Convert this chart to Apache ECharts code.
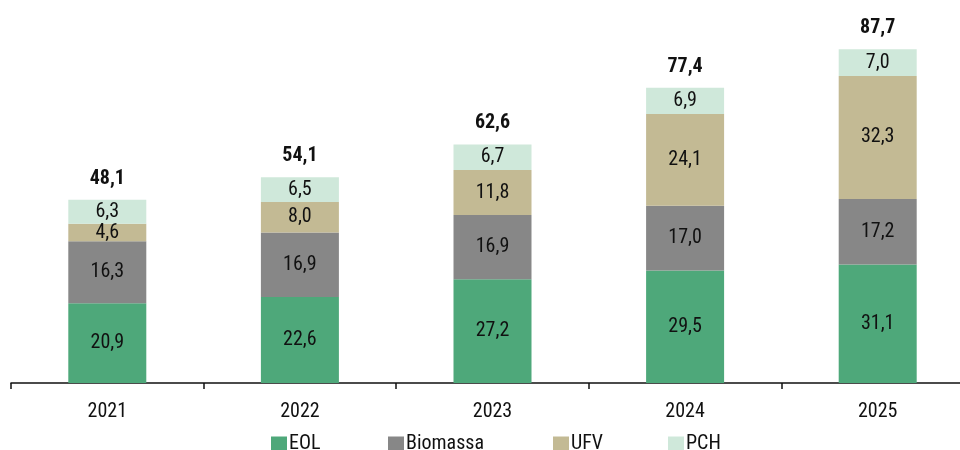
<!DOCTYPE html>
<html><head><meta charset="utf-8">
<script src="https://cdn.jsdelivr.net/npm/echarts@6/dist/echarts.min.js"></script>
<style>html,body{margin:0;padding:0;background:#fff}#c{width:960px;height:450px}</style>
</head><body><div id="c"></div>
<script>
const categories = ['2021','2022','2023','2024','2025'];
const eol = [20.9, 22.6, 27.2, 29.5, 31.1];
const biomassa = [16.3, 16.9, 16.9, 17.0, 17.2];
const ufv = [4.6, 8.0, 11.8, 24.1, 32.3];
const pch = [6.3, 6.5, 6.7, 6.9, 7.0];
const totals = [48.1, 54.1, 62.6, 77.4, 87.7];
const legendNames = ['EOL', 'Biomassa', 'UFV', 'PCH'];

const FONT = '"Roboto Condensed", "Open Sans", sans-serif';
const fmt = v => v.toFixed(1).replace('.', ',');
function seg(name, data, color) {
  return {
    name, type: 'bar', stack: 't', data, barWidth: 78,
    itemStyle: { color },
    label: { show: true, position: 'inside', color: '#111', fontSize: 20, fontFamily: FONT,
      formatter: p => fmt(p.value) }
  };
}
const legendLefts = [271, 388, 553, 668];
const chart = echarts.init(document.getElementById('c'));
chart.setOption({
  animation: false,
  grid: { left: 11, width: 963, top: 2, bottom: 67, outerBoundsMode: 'none', containLabel: false },
  legend: legendNames.map((n, i) => ({
    left: legendLefts[i], top: 434, padding: 0, itemWidth: 16, itemHeight: 15,
    icon: 'rect',
    textStyle: { fontSize: 20, fontFamily: FONT, color: '#111', padding: [0,0,0,-3] },
    data: [n]
  })),
  xAxis: {
    type: 'category', data: categories,
    axisLine: { lineStyle: { color: '#111', width: 1.5 } },
    axisTick: { show: true, length: 6, lineStyle: { color: '#111', width: 1.5 } },
    axisLabel: { fontSize: 20, fontFamily: FONT, color: '#111', margin: 19 }
  },
  yAxis: { type: 'value', min: 0, max: 100, show: false, splitLine: { show: false } },
  series: [
    seg('EOL', eol, '#4EA87A'),
    seg('Biomassa', biomassa, '#878787'),
    seg('UFV', ufv, '#C3BA94'),
    seg('PCH', pch, '#CFE8DA'),
    {
      name: 'Total', type: 'bar', stack: 't', data: totals.map(() => 0), barWidth: 78,
      itemStyle: { color: 'transparent' },
      label: { show: true, position: 'top', distance: 11, color: '#111', fontSize: 20, fontWeight: 'bold',
        fontFamily: FONT, formatter: p => fmt(totals[p.dataIndex]) }
    }
  ]
});
</script></body></html>
